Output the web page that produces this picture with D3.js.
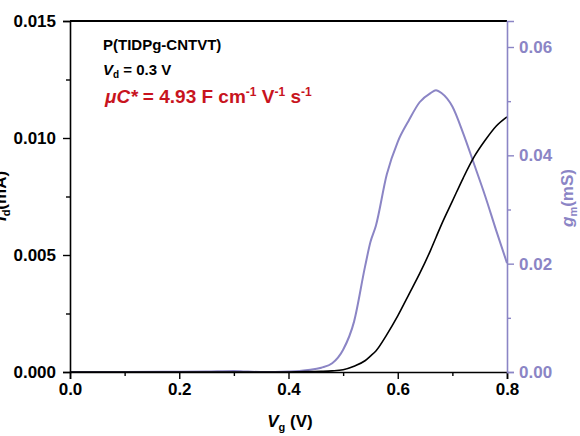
<!DOCTYPE html>
<html>
<head>
<meta charset="utf-8">
<script src="https://cdn.jsdelivr.net/npm/d3@7"></script>
<style>
  body { margin: 0; background: #ffffff; }
  svg { font-family: "Liberation Sans", Arial, sans-serif; font-weight: bold; }
</style>
</head>
<body>
<svg id="chart" width="580" height="436"></svg>
<script>
// gate voltage (V)
const vg = [0, 0.1, 0.2, 0.25, 0.3, 0.32, 0.35, 0.4, 0.42, 0.44, 0.46, 0.48, 0.50, 0.52, 0.54, 0.55, 0.56,
    0.58, 0.60, 0.62, 0.64, 0.66, 0.67, 0.68, 0.70, 0.72, 0.74, 0.76, 0.78, 0.80];
// drain current Id (mA)
const idValues = [0, 0, 0, 0, 0, 0, 0, 0, 0.00001, 0.00002, 0.00003, 0.00005, 0.0001, 0.00025, 0.00048, 0.00068, 0.0009,
    0.0016, 0.0024, 0.0033, 0.0042, 0.0052, 0.00575, 0.0063, 0.0073, 0.0083, 0.0092, 0.0099, 0.0105, 0.0109];
// transconductance gm (mS)
const gmValues = [0, 0, 0.00005, 0.0001, 0.0002, 0.0001, 0, 0.0001, 0.0002, 0.0004, 0.0008, 0.0016, 0.0041, 0.0093, 0.0194, 0.0240, 0.0270,
    0.0365, 0.0425, 0.0464, 0.0498, 0.0515, 0.0520, 0.0515, 0.0490, 0.0440, 0.0383, 0.0325, 0.0262, 0.0201];

const xTicks = [0, 0.2, 0.4, 0.6, 0.8];
const yLeftTicks = [0, 0.005, 0.010, 0.015];
const yRightTicks = [0, 0.02, 0.04, 0.06];

const svg = d3.select("#chart"),
    margin = { top: 21, right: 73, bottom: 64, left: 70 },
    width = +svg.attr("width"),
    height = +svg.attr("height"),
    chartWidth = width - margin.left - margin.right,
    chartHeight = height - margin.top - margin.bottom;

const purple = "#8b85c5";
const red = "#c8141e";

const chart = svg.append("g")
    .attr("transform", `translate(${margin.left},${margin.top})`);

const x = d3.scaleLinear().domain([0, 0.8]).range([0, chartWidth]);
const yL = d3.scaleLinear().domain([0, 0.015]).range([chartHeight, 0]);
const yR = d3.scaleLinear().domain([0, 0.0648]).range([chartHeight, 0]);

// top border
chart.append("line")
    .attr("x1", 0).attr("x2", chartWidth)
    .attr("y1", 0).attr("y2", 0)
    .attr("stroke", "#000").attr("stroke-width", 2);

function styleAxis(g, color) {
    g.select(".domain").attr("stroke", color).attr("stroke-width", 1.6);
    g.selectAll(".tick line").attr("stroke", color).attr("stroke-width", 1.4);
    g.selectAll(".tick text")
        .attr("fill", color)
        .style("font-size", "17px")
        .style("font-weight", "bold")
        .style("font-family", "'Liberation Sans', Arial, sans-serif");
}

// minor ticks
const minorX = [0.1, 0.3, 0.5, 0.7];
const minorL = [0.0025, 0.0075, 0.0125];
const minorR = [0.01, 0.03, 0.05];

chart.append("g")
    .attr("transform", `translate(0,${chartHeight})`)
    .call(d3.axisBottom(x).tickValues(minorX).tickSize(4).tickFormat(""))
    .call(g => { g.select(".domain").remove(); g.selectAll("line").attr("stroke", "#000").attr("stroke-width", 1.4); });

chart.append("g")
    .call(d3.axisLeft(yL).tickValues(minorL).tickSize(4).tickFormat(""))
    .call(g => { g.select(".domain").remove(); g.selectAll("line").attr("stroke", "#000").attr("stroke-width", 1.4); });

chart.append("g")
    .attr("transform", `translate(${chartWidth},0)`)
    .call(d3.axisRight(yR).tickValues(minorR).tickSize(4).tickFormat(""))
    .call(g => { g.select(".domain").remove(); g.selectAll("line").attr("stroke", purple).attr("stroke-width", 1.4); });

// curves
const pts = vg.map((v, i) => ({ v: v, id: idValues[i], gm: gmValues[i] }));

chart.append("path")
    .datum(pts)
    .attr("fill", "none")
    .attr("stroke", purple)
    .attr("stroke-width", 2)
    .attr("d", d3.line().x(d => x(d.v)).y(d => yR(d.gm)).curve(d3.curveMonotoneX));

chart.append("path")
    .datum(pts)
    .attr("fill", "none")
    .attr("stroke", "#000")
    .attr("stroke-width", 1.6)
    .attr("d", d3.line().x(d => x(d.v)).y(d => yL(d.id)).curve(d3.curveMonotoneX));

// main axes
chart.append("g")
    .attr("transform", `translate(0,${chartHeight})`)
    .call(d3.axisBottom(x).tickValues(xTicks).tickSize(7).tickPadding(4).tickFormat(d3.format(".1f")))
    .call(g => styleAxis(g, "#000"));

chart.append("g")
    .call(d3.axisLeft(yL).tickValues(yLeftTicks).tickSize(7).tickPadding(7).tickFormat(d3.format(".3f")))
    .call(g => styleAxis(g, "#000"));

chart.append("g")
    .attr("transform", `translate(${chartWidth},0)`)
    .call(d3.axisRight(yR).tickValues(yRightTicks).tickSize(7).tickPadding(5).tickFormat(d3.format(".2f")))
    .call(g => styleAxis(g, purple));

// axis titles
const xTitle = svg.append("text")
    .attr("x", 290).attr("y", 427)
    .attr("text-anchor", "middle")
    .style("font-size", "17px");
xTitle.append("tspan").style("font-style", "italic").text("V");
xTitle.append("tspan").attr("dy", 4).style("font-size", "11px").text("g");
xTitle.append("tspan").attr("dy", -4).text(" (V)");

// left title is partly outside the frame, as in the source figure
const yTitle = svg.append("text")
    .attr("transform", "translate(6,196) rotate(-90)")
    .attr("text-anchor", "middle")
    .style("font-size", "17px");
yTitle.append("tspan").style("font-style", "italic").text("I");
yTitle.append("tspan").attr("dy", 4).style("font-size", "11px").text("d");
yTitle.append("tspan").attr("dy", -4).text("(mA)");

const y2Title = svg.append("text")
    .attr("transform", "translate(573,198) rotate(-90)")
    .attr("text-anchor", "middle")
    .attr("fill", purple)
    .style("font-size", "17px");
y2Title.append("tspan").style("font-style", "italic").text("g");
y2Title.append("tspan").attr("dy", 4).style("font-size", "11px").text("m");
y2Title.append("tspan").attr("dy", -4).text("(mS)");

// annotation
svg.append("text")
    .attr("x", 103).attr("y", 50)
    .style("font-size", "15px")
    .text("P(TIDPg-CNTVT)");

const vd = svg.append("text")
    .attr("x", 103).attr("y", 75)
    .style("font-size", "15px");
vd.append("tspan").style("font-style", "italic").text("V");
vd.append("tspan").attr("dy", 3).style("font-size", "10px").text("d");
vd.append("tspan").attr("dy", -3).text(" = 0.3 V");

const mu = svg.append("text")
    .attr("x", 105).attr("y", 103)
    .attr("fill", red)
    .style("font-size", "19px");
mu.append("tspan").style("font-style", "italic").text("\u03bcC*");
mu.append("tspan").text(" = 4.93 F cm");
mu.append("tspan").attr("dy", -7).style("font-size", "12px").text("-1");
mu.append("tspan").attr("dy", 7).text(" V");
mu.append("tspan").attr("dy", -7).style("font-size", "12px").text("-1");
mu.append("tspan").attr("dy", 7).text(" s");
mu.append("tspan").attr("dy", -7).style("font-size", "12px").text("-1");
</script>
</body>
</html>
